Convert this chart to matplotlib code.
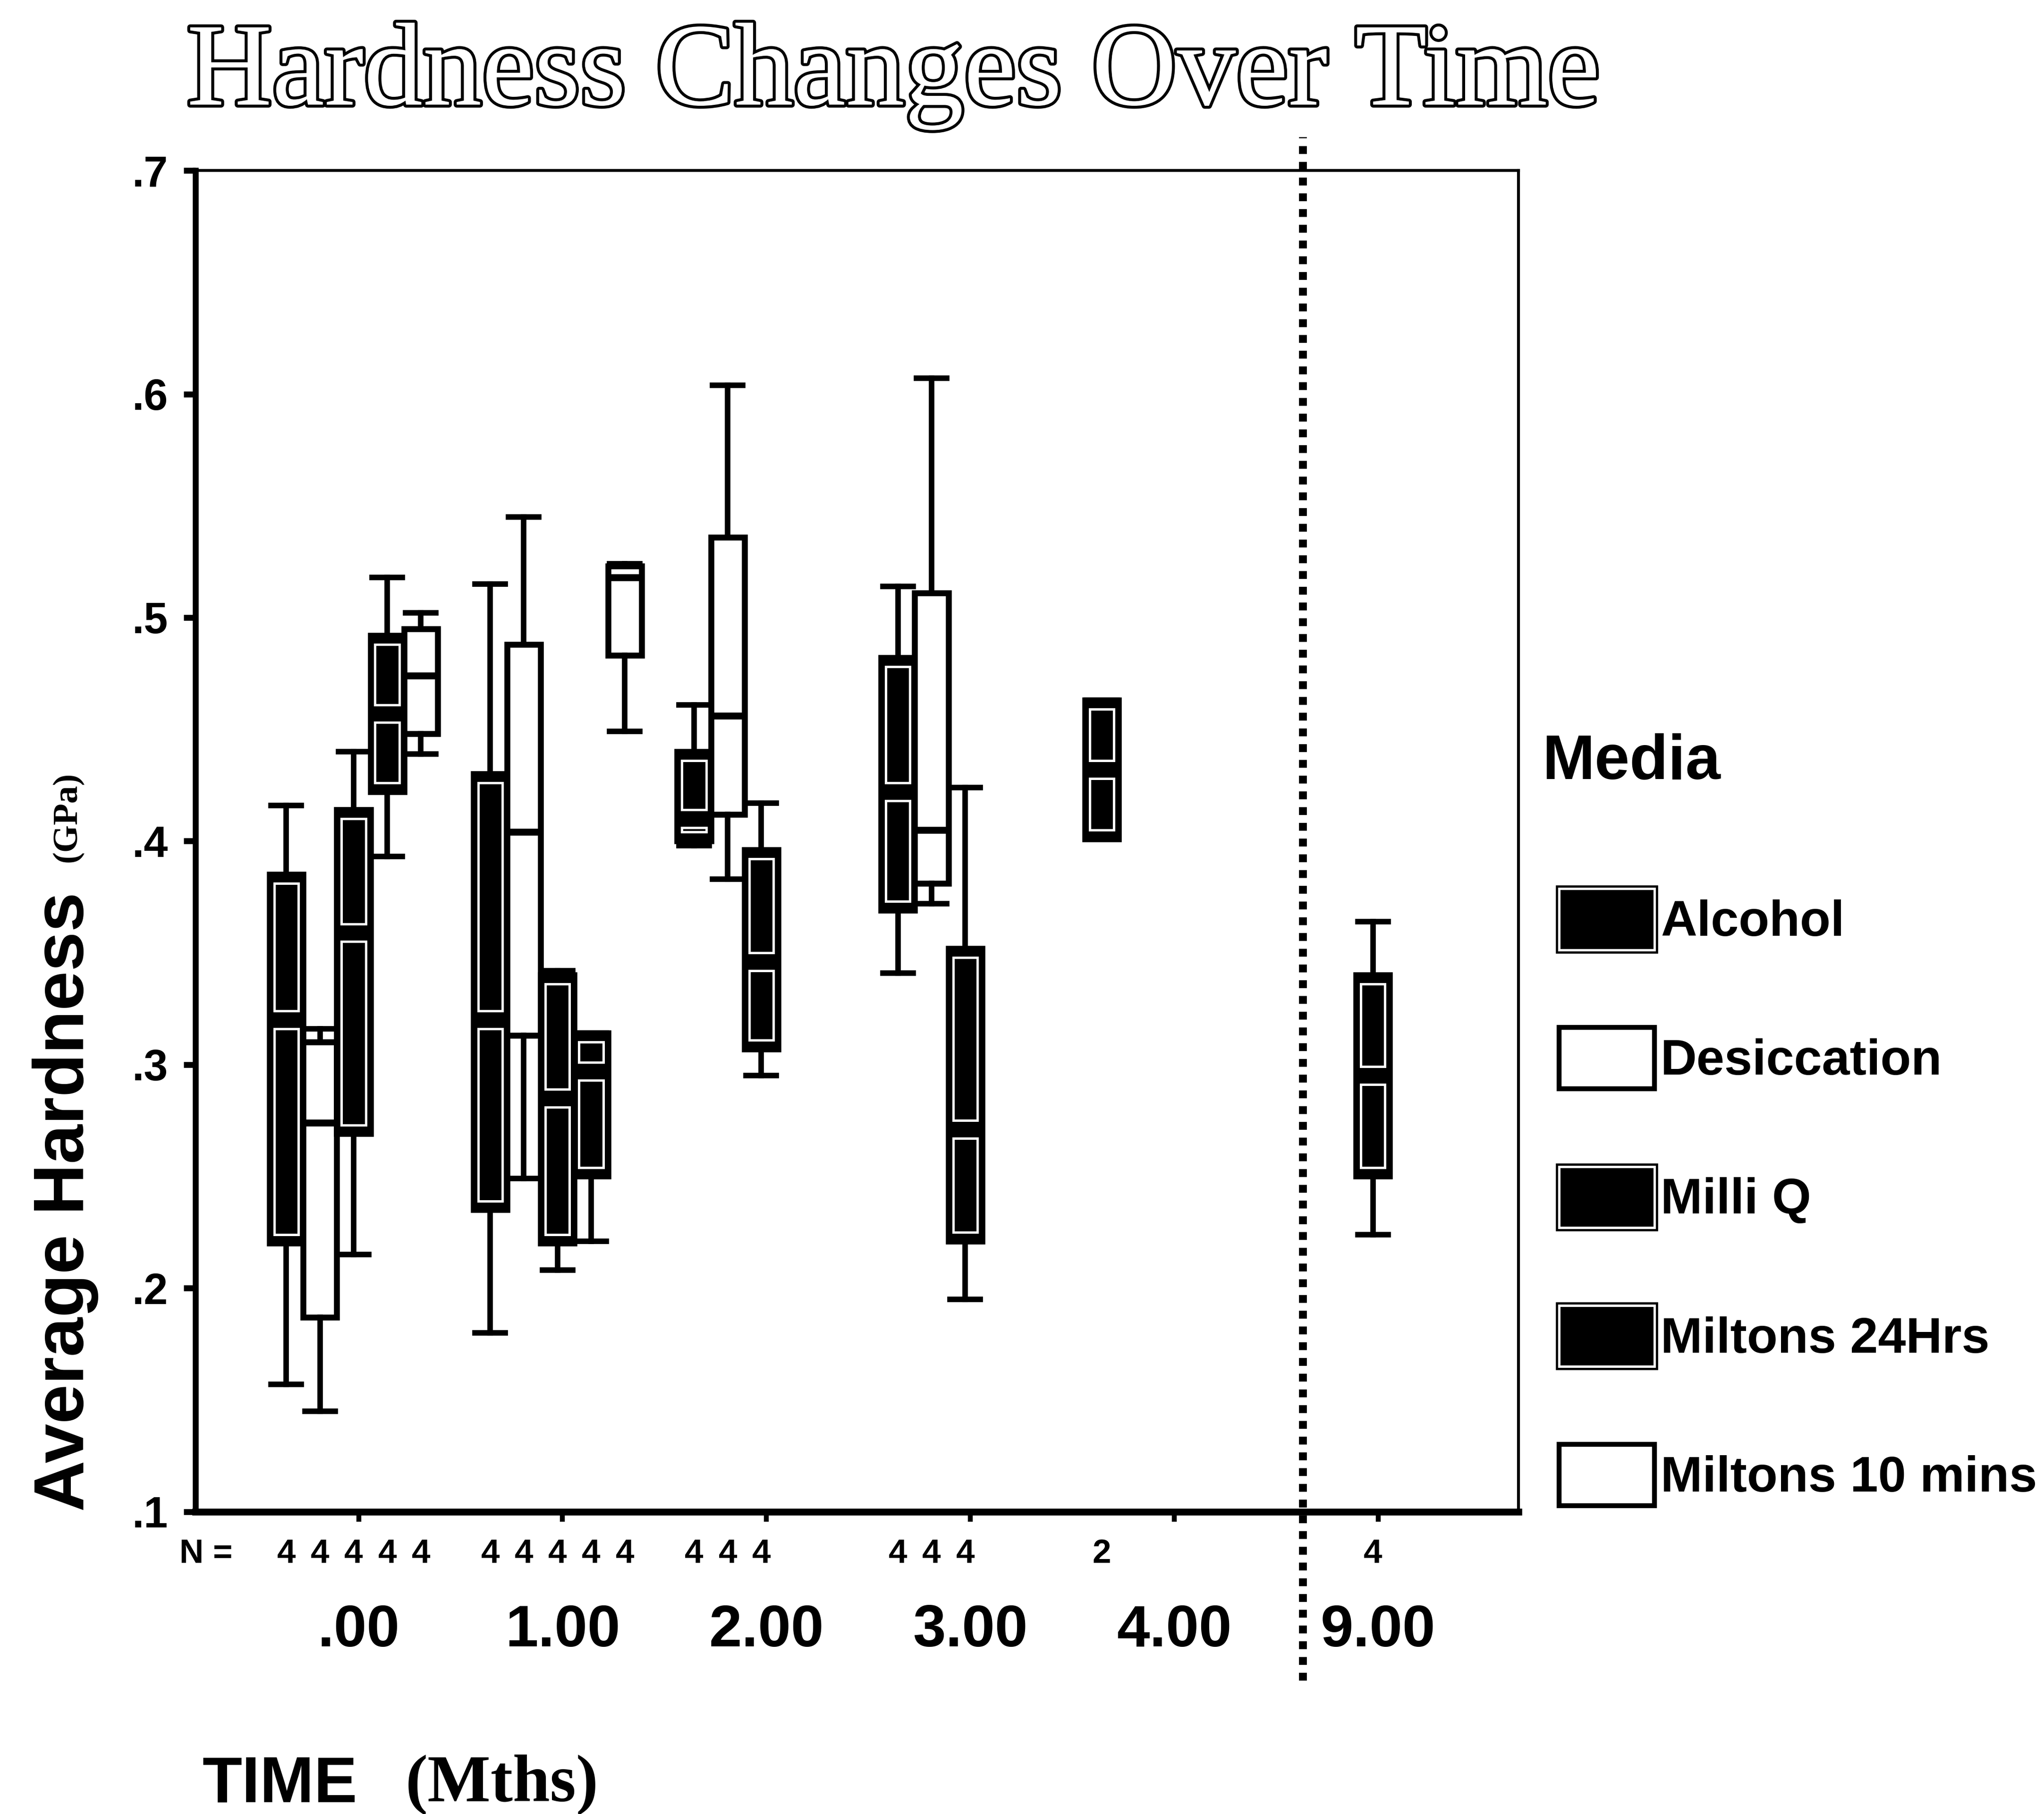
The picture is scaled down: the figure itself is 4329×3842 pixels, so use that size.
import matplotlib.pyplot as plt
import matplotlib.patheffects as pe
import matplotlib.transforms as mtransforms
from matplotlib.patches import Patch
from matplotlib.legend_handler import HandlerTuple

plt.rcParams['font.family'] = ['Liberation Sans', 'DejaVu Sans']
plt.rcParams['font.weight'] = 'bold'

# time groups (months) on the x axis
time_labels = ['.00', '1.00', '2.00', '3.00', '4.00', '9.00']
media = ['Alcohol', 'Desiccation', 'Milli Q', 'Miltons 24Hrs', 'Miltons 10 mins']
dark_fill = [True, False, True, True, False]

# each row: time index, whisker low, q1, median, q3, whisker high, N
alcohol = [
    (0, .157, .220, .320, .385, .416, 4),
    (1, .180, .235, .320, .430, .515, 4),
    (2, .398, .400, .410, .440, .461, 4),
    (3, .341, .369, .422, .482, .514, 4),
    (4, .401, .401, .432, .463, .463, 2),
]
desiccation = [
    (0, .145, .187, .274, .310, .316, 4),
    (1, .249, .313, .404, .488, .545, 4),
    (2, .383, .412, .456, .536, .604, 4),
    (3, .372, .381, .405, .511, .607, 4),
]
milli_q = [
    (0, .215, .269, .359, .414, .440, 4),
    (1, .208, .220, .285, .340, .342, 4),
    (2, .295, .307, .346, .396, .417, 4),
    (3, .195, .221, .271, .352, .424, 4),
    (5, .224, .250, .295, .340, .364, 4),
]
miltons_24 = [
    (0, .393, .422, .457, .492, .518, 4),
    (1, .221, .250, .297, .314, .314, 4),
]
miltons_10 = [
    (0, .439, .448, .474, .495, .502, 4),
    (1, .449, .483, .518, .523, .524, 4),
]
all_rows = [alcohol, desiccation, milli_q, miltons_24, miltons_10]

slot = 0.165
box_w = 0.165
pad = 0.004

fig = plt.figure(figsize=(4329 / 300, 3842 / 300), dpi=300)
ax = fig.add_axes([0.0957, 0.1667, 0.6473, 0.7393])
trans = mtransforms.blended_transform_factory(ax.transData, ax.transAxes)

for m, rows in enumerate(all_rows):
    stats = [dict(whislo=r[1], q1=r[2], med=r[3], q3=r[4], whishi=r[5]) for r in rows]
    pos = [r[0] + (m - 2) * slot - 0.025 for r in rows]
    face = 'black' if dark_fill[m] else 'white'
    ax.bxp(stats, positions=pos, widths=box_w, capwidths=box_w * 0.9,
           patch_artist=True, showfliers=False, manage_ticks=False,
           boxprops=dict(facecolor=face, edgecolor='black', linewidth=3),
           medianprops=dict(color='black', linewidth=3.5),
           whiskerprops=dict(color='black', linewidth=2.8),
           capprops=dict(color='black', linewidth=2.8))
    if dark_fill[m]:
        # white inner frames above and below the median
        q1 = [r[2] for r in rows]
        med = [r[3] for r in rows]
        q3 = [r[4] for r in rows]
        up_h = [max(b - a - 2 * pad, 0) for a, b in zip(med, q3)]
        lo_h = [max(b - a - 2 * pad, 0) for a, b in zip(q1, med)]
        ax.bar(pos, up_h, bottom=[v + pad for v in med], width=box_w * 0.72,
               fill=False, edgecolor='white', linewidth=1.2, zorder=3)
        ax.bar(pos, lo_h, bottom=[v + pad for v in q1], width=box_w * 0.72,
               fill=False, edgecolor='white', linewidth=1.2, zorder=3)
    for p, r in zip(pos, rows):
        ax.text(p, -0.032, str(r[6]), transform=trans, ha='center', va='center',
                fontsize=17)

ax.text(-0.75, -0.032, 'N =', transform=trans, ha='center', va='center', fontsize=17)

ax.set_xlim(-0.8, 5.69)
ax.set_ylim(0.1, 0.7)
yt = [.1, .2, .3, .4, .5, .6, .7]
ax.set_yticks(yt)
ax.set_yticklabels([f'{v:.1f}'.lstrip('0') for v in yt], fontsize=22)
ax.set_xticks(range(len(time_labels)))
ax.set_xticklabels(time_labels, fontsize=30)
ax.tick_params(axis='y', direction='out', length=6, width=3, pad=8)
ax.tick_params(axis='x', direction='out', length=5, width=2.5, pad=42)

ax.spines['left'].set_linewidth(3)
ax.spines['bottom'].set_linewidth(3.5)
ax.spines['top'].set_linewidth(1.5)
ax.spines['right'].set_linewidth(1.5)

# dotted separator before 9 months
ax.plot([4.63, 4.63], [-0.126, 1.025], transform=trans, clip_on=False,
        color='black', linewidth=4, linestyle=(0, (1, 1)), dash_capstyle='butt')

fig.text(0.437, 0.958, 'Hardness Changes Over Time', ha='center', va='center',
         fontsize=60, family=['Liberation Serif', 'DejaVu Serif'], weight='normal',
         color='white', path_effects=[pe.withStroke(linewidth=3, foreground='black')])

fig.text(0.032, 0.3376, 'Average Hardness', rotation=90, ha='center', va='center',
         fontsize=36)
fig.text(0.033, 0.5496, '(GPa)', rotation=90, ha='center', va='center', fontsize=18,
         family=['Liberation Serif', 'DejaVu Serif'])
fig.text(0.137, 0.016, 'TIME', ha='center', va='center', fontsize=33)
fig.text(0.2455, 0.016, '(Mths)', ha='center', va='center', fontsize=34,
         family=['Liberation Serif', 'DejaVu Serif'])

fig.text(0.7545, 0.5797, 'Media', ha='left', va='center', fontsize=32)

handles = []
for d in dark_fill:
    if d:
        handles.append((Patch(facecolor='black', edgecolor='black', linewidth=3.5),
                        Patch(facecolor='none', edgecolor='white', linewidth=1.2)))
    else:
        handles.append(Patch(facecolor='white', edgecolor='black', linewidth=2.5))
fig.legend(handles, media, loc='upper left', bbox_to_anchor=(0.7506, 0.524),
           frameon=False, fontsize=25.5, handlelength=1.9, handleheight=1.5,
           handletextpad=0.12, labelspacing=1.55, borderpad=0,
           handler_map={tuple: HandlerTuple(ndivide=1)})

fig.savefig('out.png', dpi=300)
